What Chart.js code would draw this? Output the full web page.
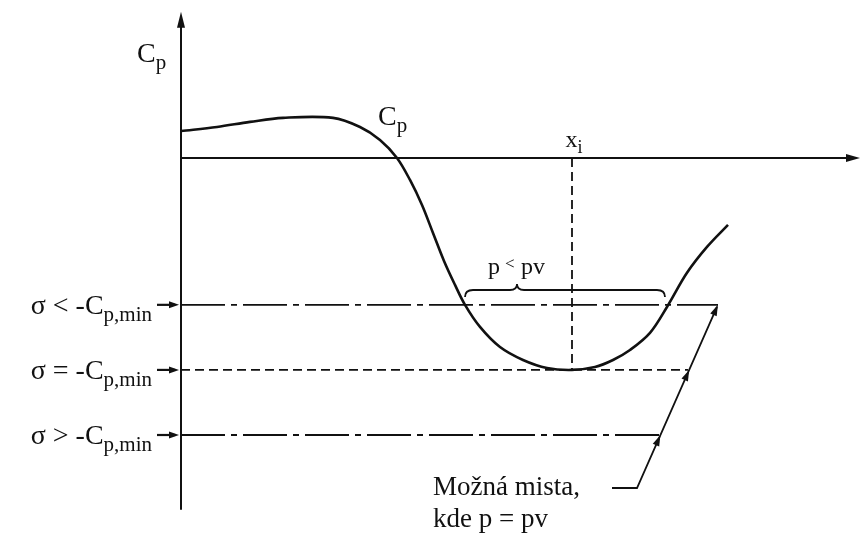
<!DOCTYPE html>
<html>
<head>
<meta charset="utf-8">
<script src="https://cdn.jsdelivr.net/npm/chart.js@4.4.1/dist/chart.umd.min.js"></script>
<style>
  body { margin: 0; background: #fff; }
  canvas { display: block; }
</style>
</head>
<body>
<canvas id="cp" width="865" height="534"></canvas>
<script>
// position along the profile (x) and pressure coefficient Cp
const profileX = [0, 0.36, 0.69, 1.02, 1.52, 1.79, 1.99, 2.16, 2.29, 2.41, 2.52, 2.63, 2.74, 2.84, 2.99, 3.19, 3.42, 3.66, 3.91, 4.14, 4.32, 4.49, 4.69, 4.86, 5.06, 5.26, 5.47];
const cpCurve  = [0.127, 0.146, 0.170, 0.189, 0.189, 0.146, 0.085, 0, -0.104, -0.222, -0.354, -0.486, -0.599, -0.693, -0.797, -0.892, -0.953, -0.991, -1.0, -0.986, -0.953, -0.906, -0.825, -0.703, -0.542, -0.420, -0.316];

// cavitation number levels and where each line stops
const sigmaLevels = [-0.693, -1.0, -1.307];
const sigmaEnds = [5.37, 5.07, 4.79];
const sigmaSigns = ['<', '=', '>'];
const sigmaDash = [[44, 6, 6, 6], [9, 5], [44, 6, 6, 6]];

const xiPos = 3.91;          // x_i, location of Cp,min
const braceRange = [2.84, 4.84, 3.36];
const braceCp = -0.623;
const xAxisEnd = 6.77;
const yAxisRange = [-1.66, 0.689];
const leaderX = [4.31, 4.56, 5.36];
const leaderCp = [-1.557, -1.557, -0.703];

const ink = '#111';
const serif = '"Liberation Serif", "DejaVu Serif", serif';

function pts(xs, ys) { return xs.map((x, i) => ({x: x, y: ys[i]})); }

function head(ctx, x, y, ang, len, half) {
  ctx.save();
  ctx.translate(x, y);
  ctx.rotate(ang);
  ctx.beginPath();
  ctx.moveTo(0, 0);
  ctx.lineTo(-len, -half);
  ctx.lineTo(-len, half);
  ctx.closePath();
  ctx.fill();
  ctx.restore();
}

// main text + subscript; align 'left' | 'right' | 'center'
function subText(ctx, main, sub, x, y, size, align) {
  const small = Math.round(size * 0.74);
  ctx.font = size + 'px ' + serif;
  const w1 = ctx.measureText(main).width;
  ctx.font = small + 'px ' + serif;
  const w2 = ctx.measureText(sub).width;
  let x0 = x;
  if (align === 'right') x0 = x - w1 - w2;
  if (align === 'center') x0 = x - (w1 + w2) / 2;
  ctx.textAlign = 'left';
  ctx.font = size + 'px ' + serif;
  ctx.fillText(main, x0, y);
  ctx.font = small + 'px ' + serif;
  ctx.fillText(sub, x0 + w1, y + size * 0.25);
}

const sketch = {
  id: 'sketch',
  afterDatasetsDraw(chart) {
    const ctx = chart.ctx;
    const X = v => chart.scales.x.getPixelForValue(v);
    const Y = v => chart.scales.y.getPixelForValue(v);
    ctx.save();
    ctx.fillStyle = ink;
    ctx.strokeStyle = ink;
    ctx.textBaseline = 'alphabetic';

    // axis arrowheads
    head(ctx, X(0), Y(yAxisRange[1]), -Math.PI / 2, 16, 4);
    head(ctx, X(xAxisEnd) + 2, Y(0), 0, 14, 4);

    // arrows + labels on the left for each sigma level
    sigmaLevels.forEach((lv, i) => {
      const y = Y(lv);
      ctx.lineWidth = 2.2;
      ctx.beginPath();
      ctx.moveTo(X(0) - 24, y);
      ctx.lineTo(X(0) - 6, y);
      ctx.stroke();
      head(ctx, X(0) - 2, y, 0, 10, 3.5);
      const lab = '\u03c3 ' + sigmaSigns[i] + ' -C';
      subText(ctx, lab, 'p,min', X(0) - 29, y + 9, 28, 'right');
    });

    // leader arrowheads where it meets each line
    const ax = X(leaderX[1]), ay = Y(leaderCp[1]);
    const bx = X(leaderX[2]), by = Y(leaderCp[2]);
    const ang = Math.atan2(by - ay, bx - ax);
    sigmaLevels.forEach((lv) => {
      const y = Y(lv);
      const t = (y - ay) / (by - ay);
      head(ctx, ax + t * (bx - ax), y, ang, 11, 3.5);
    });

    // brace over the low pressure zone
    const b0 = X(braceRange[0]), b1 = X(braceRange[1]), bm = X(braceRange[2]);
    const by0 = Y(braceCp);
    ctx.lineWidth = 1.8;
    ctx.beginPath();
    ctx.moveTo(b0, by0 + 7);
    ctx.quadraticCurveTo(b0, by0, b0 + 8, by0);
    ctx.lineTo(bm - 7, by0);
    ctx.quadraticCurveTo(bm, by0, bm, by0 - 6);
    ctx.quadraticCurveTo(bm, by0, bm + 7, by0);
    ctx.lineTo(b1 - 8, by0);
    ctx.quadraticCurveTo(b1, by0, b1, by0 + 7);
    ctx.stroke();

    // texts
    ctx.textAlign = 'left';
    const px = X(braceRange[0]) + 23;
    ctx.font = '24px ' + serif;
    ctx.fillText('p', px, by0 - 16);
    ctx.font = '17px ' + serif;
    ctx.fillText('<', px + 17, by0 - 21);
    ctx.font = '24px ' + serif;
    ctx.fillText('pv', px + 33, by0 - 16);

    subText(ctx, 'C', 'p', 137, 62, 28, 'left');
    subText(ctx, 'C', 'p', X(1.97), Y(0.157), 28, 'left');
    subText(ctx, 'x', 'i', X(xiPos) + 2, Y(0) - 11, 24, 'center');

    ctx.font = '27px ' + serif;
    ctx.textAlign = 'left';
    ctx.fillText('Mo\u017en\u00e1 mista,', X(2.52), Y(-1.59));
    ctx.fillText('kde p = pv', X(2.52), Y(-1.74));
    ctx.restore();
  }
};

const lineSet = (data, width, dash) => ({
  data: data, showLine: true, pointRadius: 0, borderColor: ink,
  borderWidth: width, borderDash: dash || [], tension: 0, fill: false
});

const datasets = [
  Object.assign(lineSet(pts(profileX, cpCurve), 2.6), {tension: 0.35}),
  lineSet([{x: 0, y: yAxisRange[0]}, {x: 0, y: yAxisRange[1] - 0.05}], 2),
  lineSet([{x: 0, y: 0}, {x: xAxisEnd - 0.1, y: 0}], 2),
  lineSet([{x: xiPos, y: 0}, {x: xiPos, y: -1}], 1.8, [9, 5]),
  lineSet(pts(leaderX, leaderCp), 1.8)
];
sigmaLevels.forEach((lv, i) => {
  datasets.push(lineSet([{x: 0, y: lv}, {x: sigmaEnds[i], y: lv}], 1.8, sigmaDash[i]));
});

new Chart(document.getElementById('cp').getContext('2d'), {
  type: 'scatter',
  data: { datasets: datasets },
  options: {
    responsive: false,
    animation: false,
    layout: { padding: 0 },
    plugins: { legend: { display: false }, tooltip: { enabled: false } },
    scales: {
      x: { type: 'linear', display: false, min: -1.81, max: 6.84 },
      y: { type: 'linear', display: false, min: -1.774, max: 0.745 }
    }
  },
  plugins: [sketch]
});
</script>
</body>
</html>
